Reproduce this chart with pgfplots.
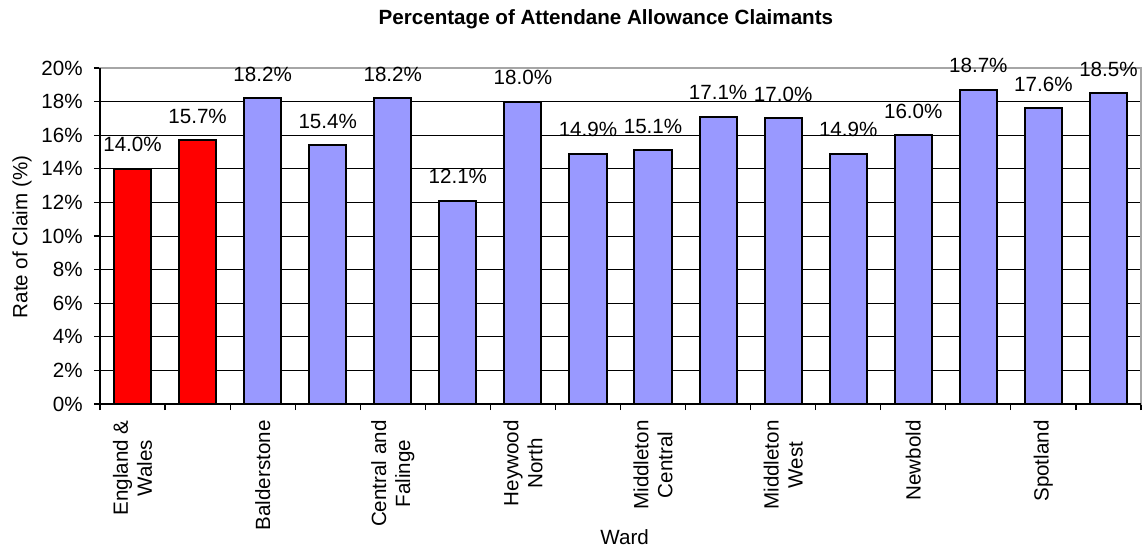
\documentclass[border=0pt]{standalone}
\usepackage{fontspec}
\setmainfont{Liberation Sans}
\usepackage{pgfplots}
\pgfplotsset{compat=1.18}
\definecolor{barred}{RGB}{255,0,0}
\definecolor{barblue}{RGB}{153,153,255}
\begin{document}
\begin{tikzpicture}[font=\fontsize{10.3}{12}\selectfont]
\useasboundingbox (-50pt,-72pt) rectangle (523pt,202pt);
\begin{axis}[
  at={(0,0)}, anchor=south west,
  scale only axis, width=520.5pt, height=168pt,
  xmin=-0.5, xmax=15.5, ymin=0, ymax=20,
  ybar, bar shift=0pt, bar width=0.57,
  clip=false,
  /pgf/number format/assume math mode=true,
  ytick={0,2,...,20},
  yticklabel={\pgfmathprintnumber{\tick}\%},
  yticklabel style={inner sep=0pt, xshift=-5.5pt},
  xtick={0,2,...,14},
  xticklabels={{England \&\\Wales},Balderstone,{Central and\\Falinge},{Heywood\\North},{Middleton\\Central},{Middleton\\West},Newbold,Spotland},
  minor xtick={-0.5,0.5,...,15.5},
  tick pos=left,
  tick align=outside, major tick length=3pt, minor tick length=3pt,
  major x tick style={draw=none},
  every tick/.style={black, line width=0.6pt},
  xticklabel style={rotate=90, anchor=east, align=center, inner sep=0pt},
  xticklabel shift=5pt,
  ymajorgrids, grid style={black, line width=0.5pt},
  axis line style={draw=gray!70, line width=0.8pt},
  title={Percentage of Attendane Allowance Claimants},
  every axis title shift=0pt,
  title style={font=\fontsize{10.3}{12}\selectfont\bfseries, at={(axis description cs:0.486,1.128)}, anchor=base},
  xlabel={Ward},
  xlabel style={at={(axis description cs:0.504,-0.4167)}, anchor=base},
  ylabel={Rate of Claim (\%)},
  ylabel style={at={(axis description cs:-0.0749,0.497)}, anchor=center, rotate=0},
  nodes near coords={\pgfmathprintnumber[fixed,fixed zerofill,precision=1]{\pgfplotspointmeta}\%},
  every node near coord/.append style={anchor=base, inner sep=0pt, yshift=8.5pt, black},
]
\addplot[fill=barred, draw=black, line width=1pt] coordinates {(0,14.0) (1,15.7)};
\addplot[fill=barblue, draw=black, line width=1pt] coordinates {
  (2,18.2) (3,15.4) (4,18.2) (5,12.1) (6,18.0) (7,14.9) (8,15.1) (9,17.1)
  (10,17.0) (11,14.9) (12,16.0) (13,18.7) (14,17.6) (15,18.5)};
\draw[black, line width=0.8pt] (rel axis cs:0,1) -- (rel axis cs:0,0) -- (rel axis cs:1,0);
\end{axis}
\end{tikzpicture}
\end{document}
